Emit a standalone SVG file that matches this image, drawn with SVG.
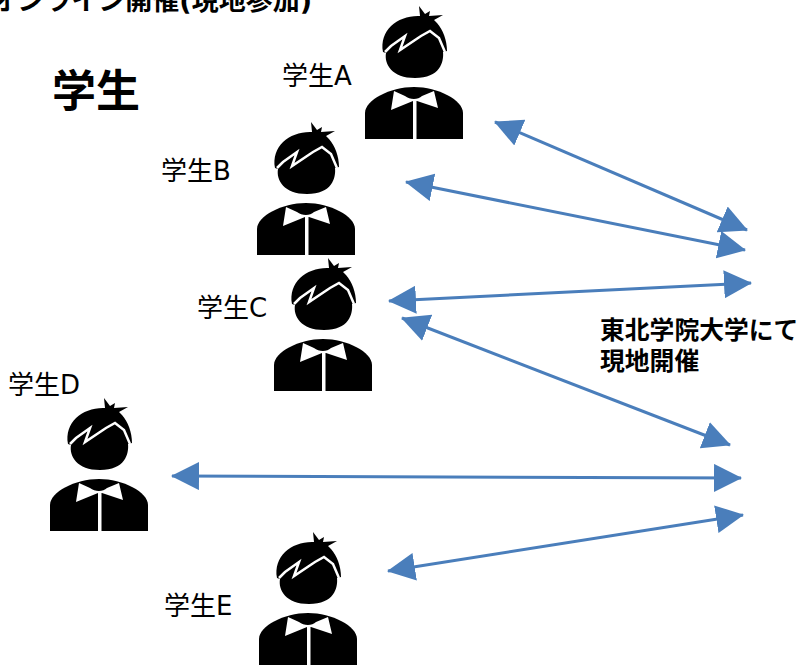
<svg xmlns="http://www.w3.org/2000/svg" width="799" height="665" viewBox="0 0 799 665">
<style>
text{font-family:"DejaVu Sans","Noto Sans CJK JP",sans-serif;fill:#000}
.b{font-weight:700}
.l{font-size:26px}
.c{stroke:#4a7ebb;stroke-width:3;fill:none;marker-start:url(#h);marker-end:url(#h)}
</style>
<defs>
<marker id="h" markerUnits="userSpaceOnUse" markerWidth="28" markerHeight="28" refX="27" refY="14" orient="auto-start-reverse" viewBox="0 0 28 28"><path d="M0 0L28 14L0 28Z" fill="#4a7ebb"/></marker>
<symbol id="p" width="130" height="150" viewBox="0 0 130 150" overflow="visible">
<path d="M70 16L69 6L75 14L80 11L79 16L93 15L84 20L87 23C93 30 97 40 97 51L93 52C94 62 90 78 65 78C42 78 34 64 36 53L33 52C29 30 48 15 70 16Z"/>
<path d="M35 52L41 46L55 36L50 50L71 36L80 31L89 38L95 52" fill="none" stroke="#fff" stroke-width="2.5"/>
<path d="M15 139V113C15 100 40 87 64 87C88 87 113 100 113 113V139Z"/>
<path d="M44 91L55 96C60 100 68 100 72 96L84 91L88 108L67 101L63 101L41 110Z" fill="#fff"/>
<rect x="63" y="100" width="3.5" height="39" fill="#fff"/>
</symbol>
</defs>
<text class="b" x="312" y="10" font-size="27" text-anchor="end">オンライン開催(現地参加)</text>
<text class="b" x="52" y="107" font-size="44">学生</text>
<g id="student-a"><use href="#p" x="350" y="0"/><text class="l" x="282" y="85">学生A</text></g>
<g id="student-b"><use href="#p" x="242" y="116"/><text class="l" x="161" y="180">学生B</text></g>
<g id="student-c"><use href="#p" x="259" y="252"/><text class="l" x="197" y="317">学生C</text></g>
<g id="student-d"><use href="#p" x="35" y="392"/><text class="l" x="8" y="394">学生D</text></g>
<g id="student-e"><use href="#p" x="244" y="526"/><text class="l" x="164" y="615">学生E</text></g>
<g id="venue"><text class="b" x="600" y="339" font-size="24.8">東北学院大学にて</text><text class="b" x="600" y="370" font-size="24.8">現地開催</text></g>
<g id="connectors">
<line class="c" x1="495" y1="122" x2="747" y2="230"/>
<line class="c" x1="406" y1="182" x2="745" y2="250"/>
<line class="c" x1="389" y1="301" x2="751" y2="283"/>
<line class="c" x1="402" y1="318" x2="730" y2="445"/>
<line class="c" x1="172" y1="476" x2="741" y2="478"/>
<line class="c" x1="388" y1="571" x2="743" y2="515"/>
</g>
</svg>
